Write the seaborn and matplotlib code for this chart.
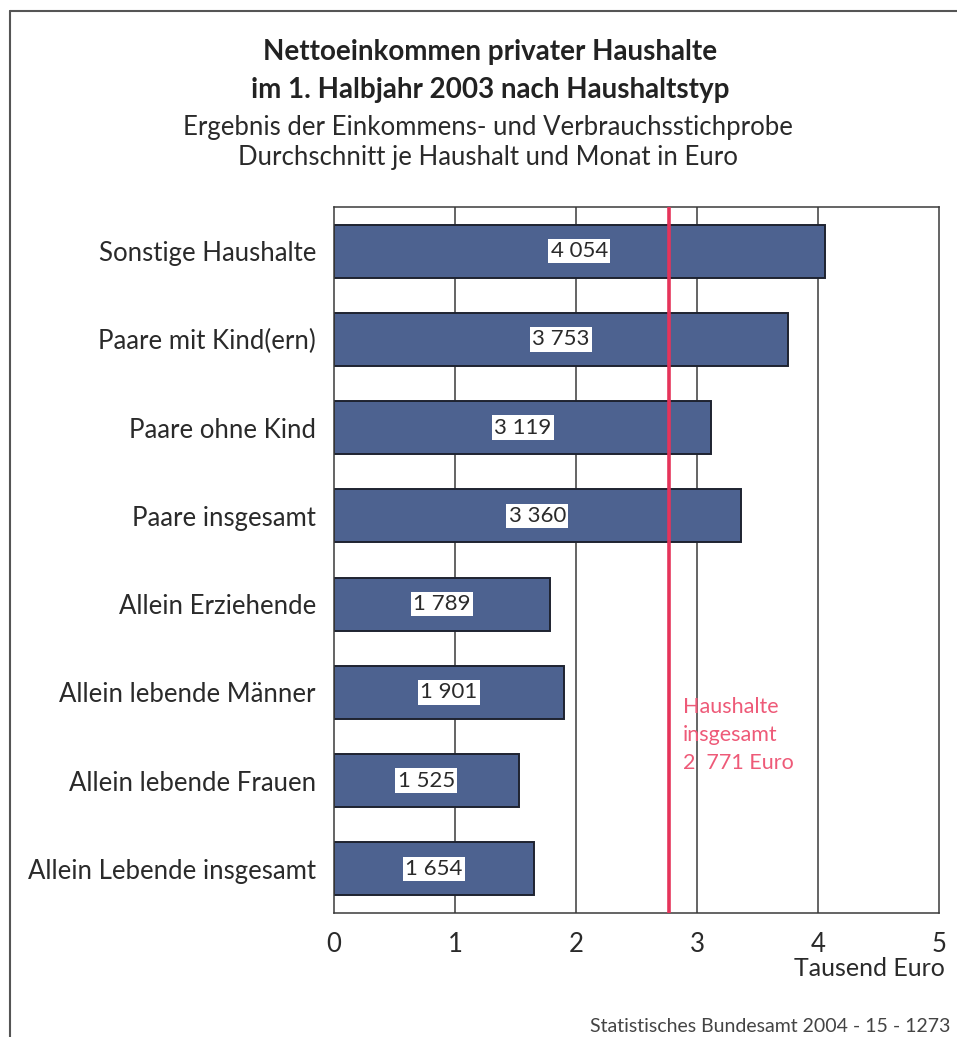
import matplotlib
matplotlib.use("Agg")
import matplotlib.pyplot as plt
from matplotlib.lines import Line2D
import seaborn as sns
import pandas as pd

categories = [
    "Sonstige Haushalte",
    "Paare mit Kind(ern)",
    "Paare ohne Kind",
    "Paare insgesamt",
    "Allein Erziehende",
    "Allein lebende Männer",
    "Allein lebende Frauen",
    "Allein Lebende insgesamt",
]
values_euro = [4054, 3753, 3119, 3360, 1789, 1901, 1525, 1654]
total_euro = 2771
x_ticks = [0, 1, 2, 3, 4, 5]

title_lines = ["Nettoeinkommen privater Haushalte", "im 1. Halbjahr 2003 nach Haushaltstyp"]
subtitle_lines = ["Ergebnis der Einkommens- und Verbrauchsstichprobe",
                  "Durchschnitt je Haushalt und Monat in Euro"]

sns.set_theme(style="white")
plt.rcParams["font.family"] = ["Lato", "DejaVu Sans"]

df = pd.DataFrame({"Haushaltstyp": categories,
                   "Tausend": [v / 1000 for v in values_euro]})

W, H = 957, 1037
fig = plt.figure(figsize=(W / 100, H / 100), dpi=100)
ax = fig.add_axes([334 / W, 1 - 913 / H, (939 - 334) / W, (913 - 207) / H])

bar_color = "#4d6290"
red = "#e5345a"
text_color = "#2a2a2a"

# vertical grid lines behind the bars
for t in x_ticks[1:-1]:
    ax.axvline(t, color="#3a3a3a", lw=1.1, zorder=0)

sns.barplot(data=df, y="Haushaltstyp", x="Tausend", orient="h", ax=ax,
            color=bar_color, width=0.6, edgecolor="#1e2330", linewidth=1.4,
            saturation=1, zorder=2)

ax.set_xlim(0, 5)
ax.set_ylim(7.5, -0.5)
ax.set_xticks(x_ticks)
ax.set_xticklabels([str(t) for t in x_ticks], fontsize=18.5, color=text_color)
ax.tick_params(axis="x", direction="out", length=11, width=1.1, color="#3a3a3a", pad=3)
ax.tick_params(axis="y", length=0, pad=13, labelsize=18.5, labelcolor=text_color)
ax.set_xlabel("")
ax.set_ylabel("")
for side in ["left", "bottom", "top", "right"]:
    ax.spines[side].set_visible(True)
    ax.spines[side].set_color("#3a3a3a")
    ax.spines[side].set_linewidth(1.1)

# value boxes in the bar centres
for i, v in enumerate(values_euro):
    s = f"{v:,}".replace(",", " ")
    ax.text(v / 1000 / 2, i, s, ha="center", va="center", fontsize=16,
            color=text_color, zorder=4,
            bbox=dict(boxstyle="square,pad=0.1", facecolor="white", edgecolor="none"))

# average of all households
ax.axvline(total_euro / 1000, color=red, lw=2.6, zorder=3)
ax.text(total_euro / 1000 + 0.11, 5.05, "Haushalte\ninsgesamt\n2  771 Euro",
        ha="left", va="top", fontsize=15.5, color="#ee5a78", linespacing=1.5, zorder=4)

# titles
fig.text(490 / W, 1 - 52 / H, title_lines[0], ha="center", va="center",
         fontsize=20, fontweight="bold", color="#222222")
fig.text(490 / W, 1 - 90 / H, title_lines[1], ha="center", va="center",
         fontsize=20, fontweight="bold", color="#222222")
fig.text(488 / W, 1 - 127 / H, subtitle_lines[0], ha="center", va="center",
         fontsize=18.5, color=text_color)
fig.text(488 / W, 1 - 158 / H, subtitle_lines[1], ha="center", va="center",
         fontsize=18.5, color=text_color)

fig.text(945 / W, 1 - 968 / H, "Tausend Euro", ha="right", va="center",
         fontsize=18, color=text_color)
fig.text(950 / W, 1 - 1027 / H, "Statistisches Bundesamt 2004 - 15 - 1273",
         ha="right", va="center", fontsize=14, color="#444444")

# outer frame lines
fig.add_artist(Line2D([10 / W, 1.0], [1 - 11 / H, 1 - 11 / H],
                      transform=fig.transFigure, color="#555555", lw=1.5))
fig.add_artist(Line2D([10 / W, 10 / W], [0, 1 - 11 / H],
                      transform=fig.transFigure, color="#555555", lw=1.5))

fig.savefig("out.png", dpi=100, facecolor="white")
